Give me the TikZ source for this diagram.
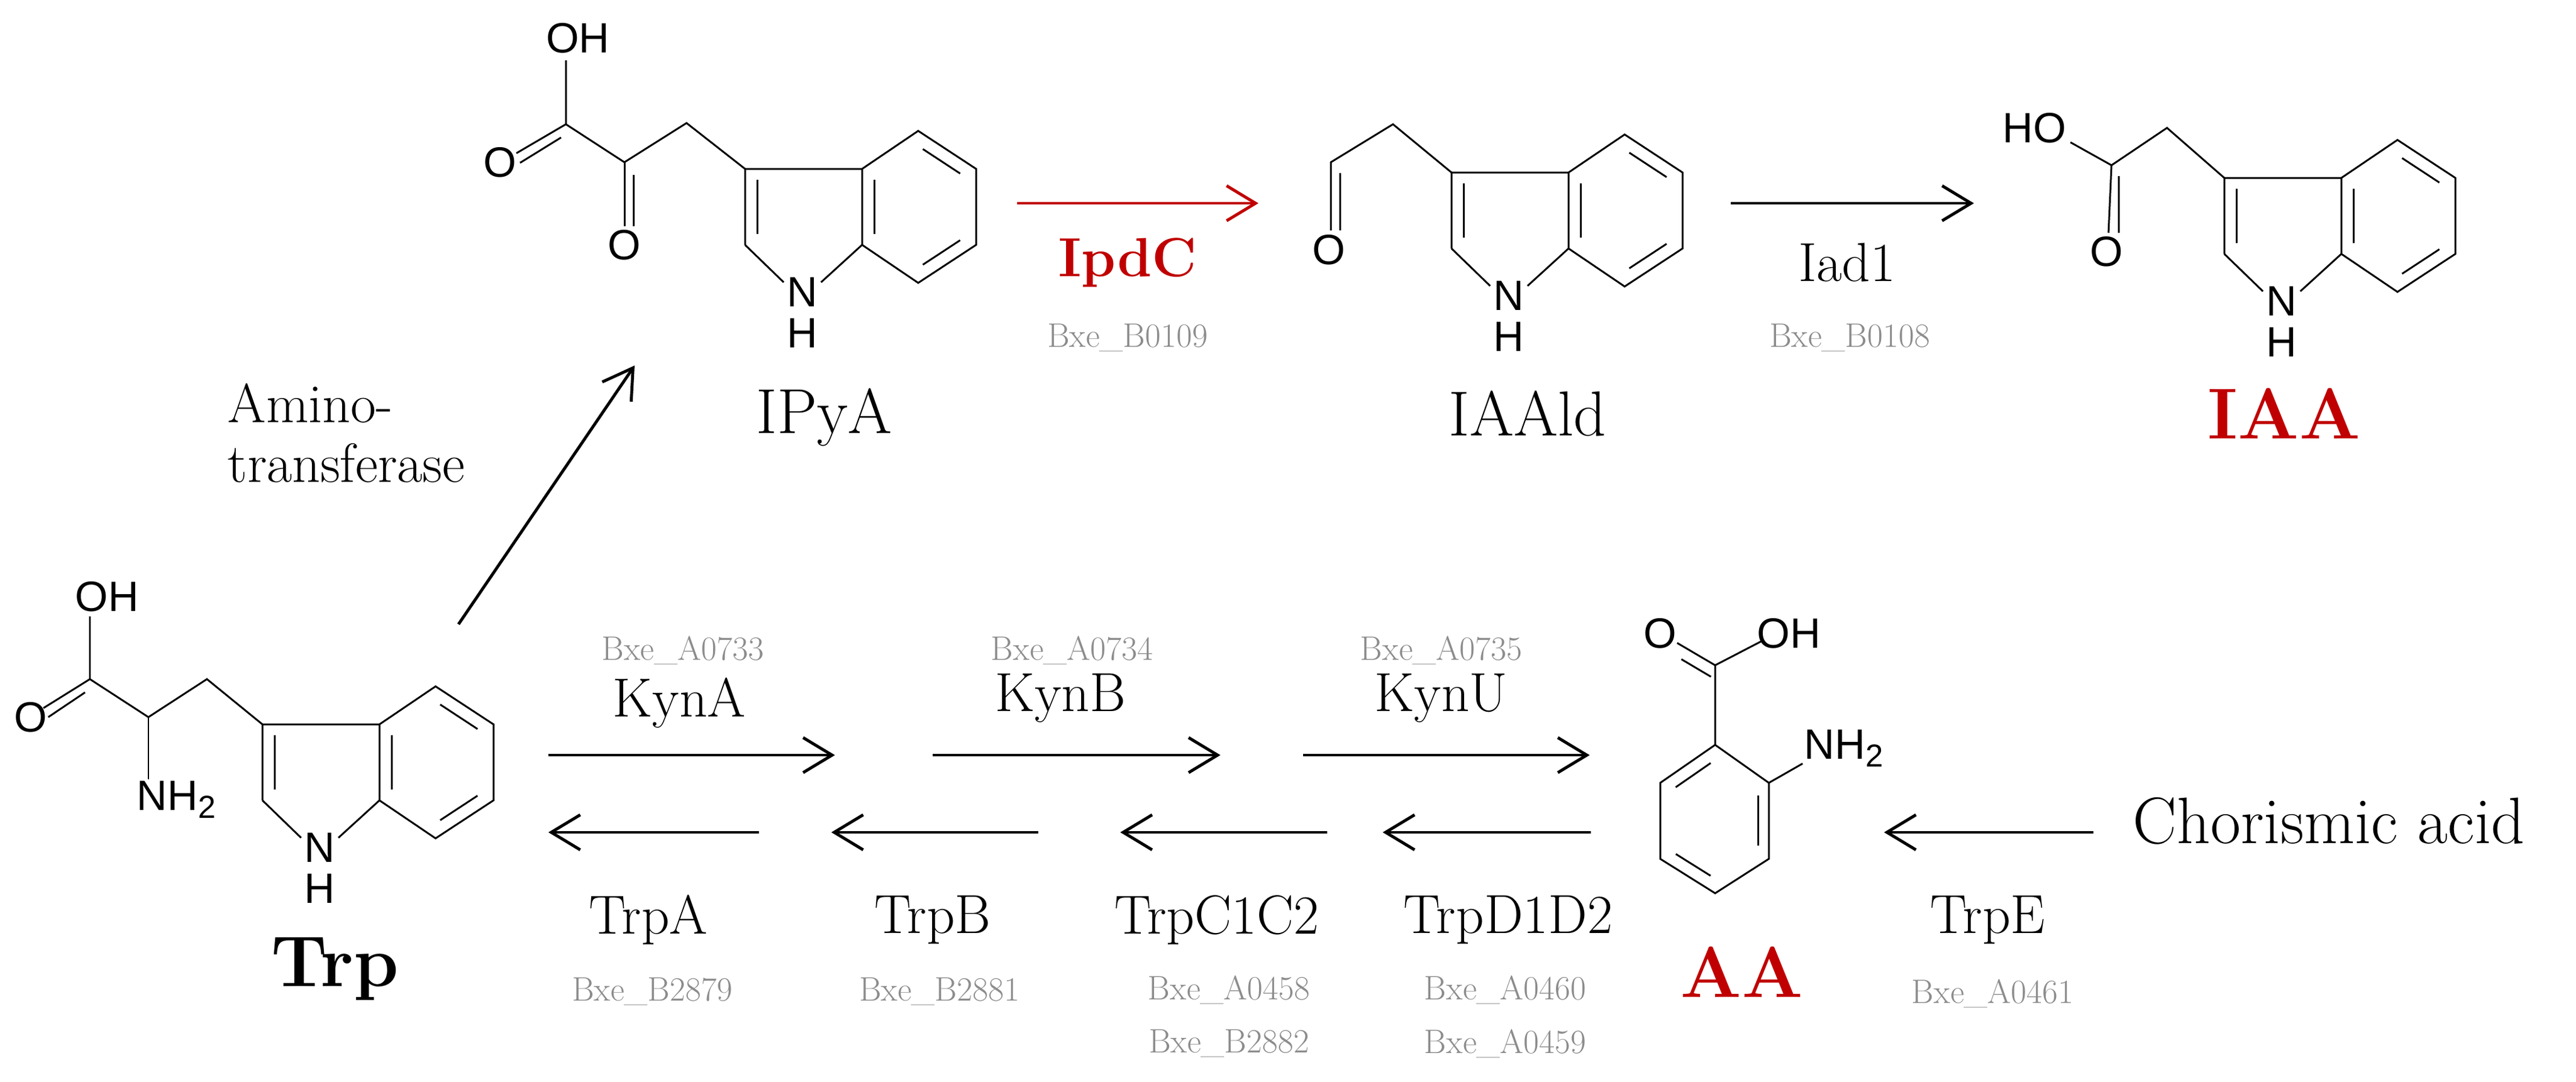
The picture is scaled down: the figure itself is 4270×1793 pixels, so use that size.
\documentclass[tikz,border=0pt]{standalone}
\usepackage{fontspec}
\newfontfamily\atomfont{Liberation Sans}
\usetikzlibrary{arrows.meta,calc}
\definecolor{dred}{HTML}{C00000}
\definecolor{lgray}{HTML}{8C8C8C}
\begin{document}
\begin{tikzpicture}[x=0.01cm,y=-0.01cm,
  bond/.style={line width=0.85pt},
  rxn/.style={line width=1.4pt,-{Straight Barb[length=4.8mm,width=5.8mm,line width=1.4pt]}},
  atom/.style={inner sep=0pt,font=\atomfont\fontsize{20}{20}\selectfont},
  enz/.style={inner sep=0pt,font=\fontsize{26}{26}\selectfont},
  gene/.style={inner sep=0pt,text=lgray,font=\fontsize{16}{16}\selectfont},
  mol/.style={inner sep=0pt,font=\fontsize{30}{30}\selectfont},
  pics/indole/.style={code={
    \coordinate (-C3) at (0,0); \coordinate (-C3a) at (194,0); \coordinate (-C4) at (287,-63);
    \coordinate (-C5) at (383,0); \coordinate (-C6) at (383,126); \coordinate (-C7) at (287,189);
    \coordinate (-C7a) at (194,126); \coordinate (-C2) at (0,126); \coordinate (-c) at (288,63);
    \node[atom] (-N) at (95,204) {N};
    \node[atom] (-H) at (95,272) {H};
    \draw[bond] (-C2)--(-C3)--(-C3a)--(-C4)--(-C5)--(-C6)--(-C7)--(-C7a)--(-C3a);
    \draw[bond] (-C2)--(64,188) (126,188)--(-C7a);
    \draw[bond] (20,18)--(20,108);
    \draw[bond] (214,18)--(214,108);
    \draw[bond,shorten <=0.09cm,shorten >=0.09cm] ($(-c)!0.8!(-C4)$)--($(-c)!0.8!(-C5)$);
    \draw[bond,shorten <=0.09cm,shorten >=0.09cm] ($(-c)!0.8!(-C6)$)--($(-c)!0.8!(-C7)$);
  }}]
\useasboundingbox (0,0) rectangle (4270,1793);

% ---------- IPyA ----------
\pic (ipya) at (1235,280) {indole};
\coordinate (ipyaCH2) at (1138,204);
\coordinate (ipyaCk) at (1035,269);
\coordinate (ipyaCc) at (938,206);
\node[atom] (ipyaOH) at (958,63) {OH};
\node[atom] (ipyaO1) at (829,269) {O};
\node[atom] (ipyaO2) at (1035,406) {O};
\draw[bond] (ipya-C3)--(ipyaCH2)--(ipyaCk)--(ipyaCc)--(938,100);
\draw[bond] (ipyaCk)--(1035,375) (1050,290)--(1050,375);
\draw[bond] (ipyaCc)--(856,254) (930,228)--(862,270);
\node[mol] (ipyaL) at (1366,692) {IPyA};

% ---------- Trp ----------
\begin{scope}[shift={(435,1201)},scale=0.95]
\pic (trp) at (0,0) {indole};
\end{scope}
\coordinate (trpCH2) at (343,1126);
\coordinate (trpCa) at (246,1189);
\coordinate (trpCc) at (149,1126);
\node[atom,anchor=west] (trpOH) at (124,989) {OH};
\node[atom] (trpO) at (51,1189) {O};
\node[atom,anchor=west] (trpN) at (226,1326) {NH\raisebox{-0.35ex}{\fontsize{15}{15}\selectfont 2}};
\draw[bond] (trp-C3)--(trpCH2)--(trpCa)--(trpCc)--(149,1022);
\draw[bond] (trpCa)--(246,1292);
\draw[bond] (trpCc)--(72,1174) (141,1148)--(80,1189);
\node[mol,font=\bfseries\fontsize{34}{34}\selectfont] (trpL) at (555,1607) {Trp};

% ---------- IAAld ----------
\pic (iaald) at (2406,286) {indole};
\coordinate (iaaldCH2) at (2309,206);
\coordinate (iaaldC) at (2206,269);
\node[atom] (iaaldO) at (2203,414) {O};
\draw[bond] (iaald-C3)--(iaaldCH2)--(iaaldC)--(2206,382);
\draw[bond] (2221,287)--(2221,382);
\node[mol] (iaaldL) at (2532,686) {IAAld};

% ---------- IAA ----------
\pic (iaa) at (3687,295) {indole};
\coordinate (iaaCH2) at (3592,212);
\coordinate (iaaC) at (3500,274);
\node[atom] (iaaHO) at (3372,212) {HO};
\node[atom] (iaaO) at (3492,417) {O};
\draw[bond] (iaa-C3)--(iaaCH2)--(iaaC)--(3432,236);
\draw[bond] (iaaC)--(3495,386) (3512,292)--(3512,386);
\node[mol,font=\bfseries\fontsize{34}{34}\selectfont,text=dred] (iaaL) at (3786,686) {IAA};

% ---------- AA ----------
\coordinate (aa1) at (2843,1235); \coordinate (aa2) at (2932,1298);
\coordinate (aa3) at (2932,1424); \coordinate (aa4) at (2843,1481);
\coordinate (aa5) at (2752,1424); \coordinate (aa6) at (2752,1298);
\coordinate (aac) at (2843,1360);
\coordinate (aaCc) at (2843,1103);
\draw[bond] (aa1)--(aa2)--(aa3)--(aa4)--(aa5)--(aa6)--cycle;
\draw[bond,shorten <=0.09cm,shorten >=0.09cm] ($(aac)!0.8!(aa6)$)--($(aac)!0.8!(aa1)$);
\draw[bond,shorten <=0.09cm,shorten >=0.09cm] ($(aac)!0.8!(aa2)$)--($(aac)!0.8!(aa3)$);
\draw[bond,shorten <=0.09cm,shorten >=0.09cm] ($(aac)!0.8!(aa4)$)--($(aac)!0.8!(aa5)$);
\draw[bond] (aa1)--(aaCc)--(2780,1066) (2836,1122)--(2787,1093);
\draw[bond] (aaCc)--(2922,1062);
\node[atom] (aaO) at (2752,1050) {O};
\node[atom,anchor=west] (aaOH) at (2912,1050) {OH};
\draw[bond] (aa2)--(2988,1266);
\node[atom,anchor=west] (aaN) at (2990,1241) {NH\raisebox{-0.35ex}{\fontsize{15}{15}\selectfont 2}};
\node[mol,font=\bfseries\fontsize{34}{34}\selectfont,text=dred] (aaL) at (2887,1612) {AA};

\node[mol,font=\fontsize{31}{31}\selectfont,anchor=west] (cho) at (3535,1361) {Chorismic acid};

% ---------- reaction arrows ----------
\coordinate (a1s) at (760,1035); \coordinate (a1e) at (1052,606);
\draw[rxn] (a1s)--(a1e);
\node[enz,align=left,anchor=west] (amino) at (377,718) {Amino-\\[2pt]transferase};

\coordinate (ip1) at (1686,337); \coordinate (ip2) at (2086,337);
\draw[rxn,draw=dred] (ip1)--(ip2);
\node[enz,font=\bfseries\fontsize{26}{26}\selectfont,text=dred] (ipdc) at (1869,435) {IpdC};
\node[gene] at (1869,560) {Bxe\_B0109};

\coordinate (ia1) at (2869,337); \coordinate (ia2) at (3272,337);
\draw[rxn] (ia1)--(ia2);
\node[enz] at (3062,435) {Iad1};
\node[gene] at (3066,560) {Bxe\_B0108};

% forward kyn
\coordinate (k1s) at (909,1252); \coordinate (k1e) at (1384,1252);
\coordinate (k2s) at (1546,1252); \coordinate (k2e) at (2023,1252);
\coordinate (k3s) at (2160,1252); \coordinate (k3e) at (2635,1252);
\draw[rxn] (k1s)--(k1e);
\draw[rxn] (k2s)--(k2e);
\draw[rxn] (k3s)--(k3e);
\node[gene] at (1132,1078) {Bxe\_A0733};
\node[enz] at (1126,1165) {KynA};
\node[gene] at (1777,1078) {Bxe\_A0734};
\node[enz] at (1758,1158) {KynB};
\node[gene] at (2389,1078) {Bxe\_A0735};
\node[enz] at (2389,1158) {KynU};

% reverse trp
\coordinate (t1s) at (1258,1380); \coordinate (t1e) at (909,1380);
\coordinate (t2s) at (1721,1380); \coordinate (t2e) at (1378,1380);
\coordinate (t3s) at (2200,1380); \coordinate (t3e) at (1857,1380);
\coordinate (t4s) at (2637,1380); \coordinate (t4e) at (2292,1380);
\coordinate (t5s) at (3470,1380); \coordinate (t5e) at (3123,1380);
\draw[rxn] (t1s)--(t1e);
\draw[rxn] (t2s)--(t2e);
\draw[rxn] (t3s)--(t3e);
\draw[rxn] (t4s)--(t4e);
\draw[rxn] (t5s)--(t5e);
\node[enz] at (1075,1525) {TrpA};
\node[gene] at (1081,1644) {Bxe\_B2879};
\node[enz] at (1546,1525) {TrpB};
\node[gene] at (1557,1644) {Bxe\_B2881};
\node[enz] at (2017,1525) {TrpC1C2};
\node[gene] at (2037,1641) {Bxe\_A0458};
\node[gene] at (2037,1730) {Bxe\_B2882};
\node[enz] at (2500,1525) {TrpD1D2};
\node[gene] at (2495,1641) {Bxe\_A0460};
\node[gene] at (2495,1730) {Bxe\_A0459};
\node[enz] at (3295,1525) {TrpE};
\node[gene] at (3303,1647) {Bxe\_A0461};
\end{tikzpicture}
\end{document}
